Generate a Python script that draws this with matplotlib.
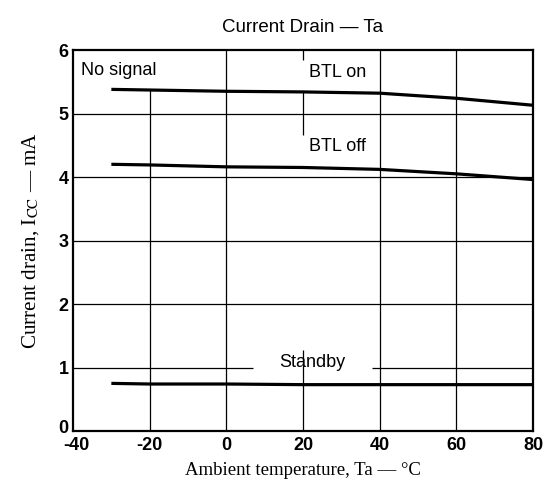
import matplotlib
matplotlib.use('Agg')
import matplotlib.pyplot as plt
from matplotlib.transforms import ScaledTranslation

plt.rcParams['mathtext.fontset'] = 'stix'
plt.rcParams['axes.unicode_minus'] = False

temps = [-30, -20, 0, 20, 40, 60, 80]
btl_on = [5.38, 5.37, 5.35, 5.34, 5.32, 5.24, 5.13]
btl_off = [4.20, 4.19, 4.16, 4.15, 4.12, 4.05, 3.96]
standby = [0.75, 0.74, 0.74, 0.73, 0.73, 0.73, 0.73]

x_ticks = [-40, -20, 0, 20, 40, 60, 80]
y_ticks = [0, 1, 2, 3, 4, 5, 6]

sans = 'Liberation Sans'
serif = 'Liberation Serif'

fig = plt.figure(figsize=(5.47, 4.79), dpi=100)
ax = fig.add_axes([0.1335, 0.1002, 0.8409, 0.7954])

# grid lines, broken where the labels sit (like the original drawing)
gk = dict(color='black', lw=0.9, zorder=1)
ax.vlines(-20, 0, 5.37, **gk)
ax.vlines(0, 0, 6, **gk)
ax.vlines([20, 20, 20], [5.84, 4.66, 0], [6, 5.35, 1.28], **gk)
ax.vlines([40, 60], 0, 6, **gk)
ax.hlines([2, 3, 4, 5], -40, 80, **gk)
ax.hlines([1, 1], [-40, 38], [7, 80], **gk)

for ys in [btl_on, btl_off, standby]:
    ax.plot(temps, ys, color='black', lw=2.3, zorder=4, solid_capstyle='butt')

ax.text(-38, 5.67, 'No signal', fontsize=13, family=sans, va='center', ha='left', zorder=3)
ax.text(29, 5.65, 'BTL on', fontsize=13, family=sans, va='center', ha='center', zorder=3)
ax.text(29, 4.48, 'BTL off', fontsize=13, family=sans, va='center', ha='center', zorder=3)
ax.text(22.4, 1.08, 'Standby', fontsize=13, family=sans, va='center', ha='center', zorder=3)

ax.set_xlim(-40, 80)
ax.set_ylim(0, 6)
ax.set_xticks(x_ticks)
ax.set_yticks(y_ticks)
ax.tick_params(length=0, pad=3, labelsize=13)
ax.tick_params(axis='x', pad=4)
for lab in ax.get_xticklabels() + ax.get_yticklabels():
    lab.set_family(sans)
    lab.set_weight('bold')
for sp in ax.spines.values():
    sp.set_linewidth(1.6)
    sp.set_zorder(5)

# corner labels: "0" a bit raised, "-40" a bit to the right
fig.canvas.draw()
zero_lab = ax.get_yticklabels()[0]
zero_lab.set_transform(zero_lab.get_transform() + ScaledTranslation(0, 5 / 100, fig.dpi_scale_trans))
first_x = ax.get_xticklabels()[0]
first_x.set_transform(first_x.get_transform() + ScaledTranslation(3 / 100, 0, fig.dpi_scale_trans))

ax.set_title('Current Drain — Ta', fontsize=13.5, family=sans, pad=13)
ax.set_xlabel('Ambient temperature, Ta — °C', fontsize=13.5, family=serif, labelpad=6)
ax.set_ylabel(r'Current drain, I$_{\mathrm{CC}}$ — mA', fontsize=15.2, family=serif, labelpad=13)

fig.savefig('out.png', dpi=100)
